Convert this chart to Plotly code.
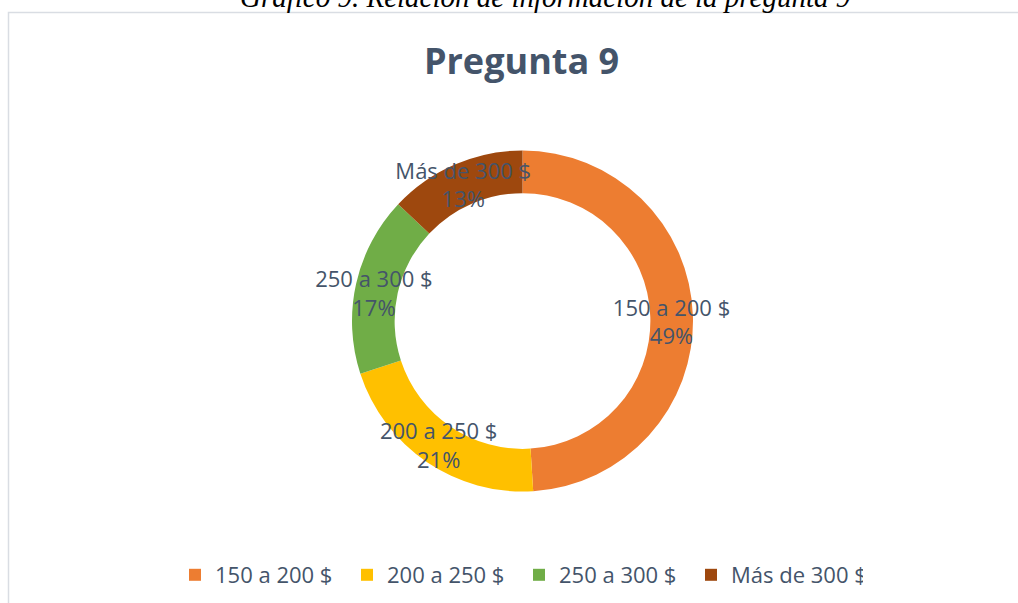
import plotly.graph_objects as go

# Data
categories = ["150 a 200 $", "200 a 250 $", "250 a 300 $", "Más de 300 $"]
values = [49, 21, 17, 13]
colors = ["#ED7D31", "#FFC000", "#70AD47", "#9E480E"]
label_pad = ["", "", "<br> <br> ", ""]  # nudges one label upward like the reference
title_text = "Pregunta 9"
caption_text = "Gráfico 9. Relación de información de la pregunta 9"

W, H = 1018, 603
text_color = "#44546A"


def fx(px):
    return px / W


def fy(py):
    return 1 - py / H


fig = go.Figure(
    go.Pie(
        labels=categories,
        values=values,
        customdata=label_pad,
        hole=0.75,
        sort=False,
        direction="clockwise",
        rotation=0,
        marker=dict(colors=colors, line=dict(width=0)),
        texttemplate="%{label}<br>%{percent}%{customdata}",
        textposition="inside",
        insidetextorientation="horizontal",
        textfont=dict(family="Open Sans", size=22, color=text_color),
        domain=dict(x=[fx(352), fx(693)], y=[fy(492), fy(150)]),
        showlegend=True,
        hoverinfo="label+percent",
    )
)

fig.update_layout(
    width=W,
    height=H,
    margin=dict(l=0, r=0, t=0, b=0),
    paper_bgcolor="white",
    plot_bgcolor="white",
    uniformtext=dict(minsize=22, mode="show"),
    title=dict(
        text="<b>" + title_text + "</b>",
        x=fx(521.5),
        xanchor="center",
        y=fy(61),
        yanchor="middle",
        font=dict(family="Open Sans", size=36, color=text_color),
    ),
    legend=dict(
        orientation="h",
        x=fx(519),
        xanchor="center",
        y=fy(575),
        yanchor="middle",
        font=dict(family="Open Sans", size=22, color=text_color),
        bgcolor="rgba(0,0,0,0)",
        entrywidth=127,
        entrywidthmode="pixels",
    ),
    shapes=[
        dict(
            type="rect",
            xref="paper",
            yref="paper",
            x0=fx(8.5),
            x1=1.2,
            y0=-0.2,
            y1=fy(12.5),
            line=dict(color="#D9DDE3", width=1.5),
            fillcolor="rgba(0,0,0,0)",
            layer="below",
        )
    ],
    annotations=[
        dict(
            text="<i>" + caption_text + "</i>",
            xref="paper",
            yref="paper",
            x=fx(545),
            xanchor="center",
            y=fy(14.5),
            yanchor="bottom",
            showarrow=False,
            font=dict(family="Liberation Serif", size=29, color="#000000"),
        )
    ],
)

fig.write_html(
    "out.html",
    config={"displayModeBar": False},
    post_script="document.body.style.margin='0';document.body.style.overflow='hidden';",
)
